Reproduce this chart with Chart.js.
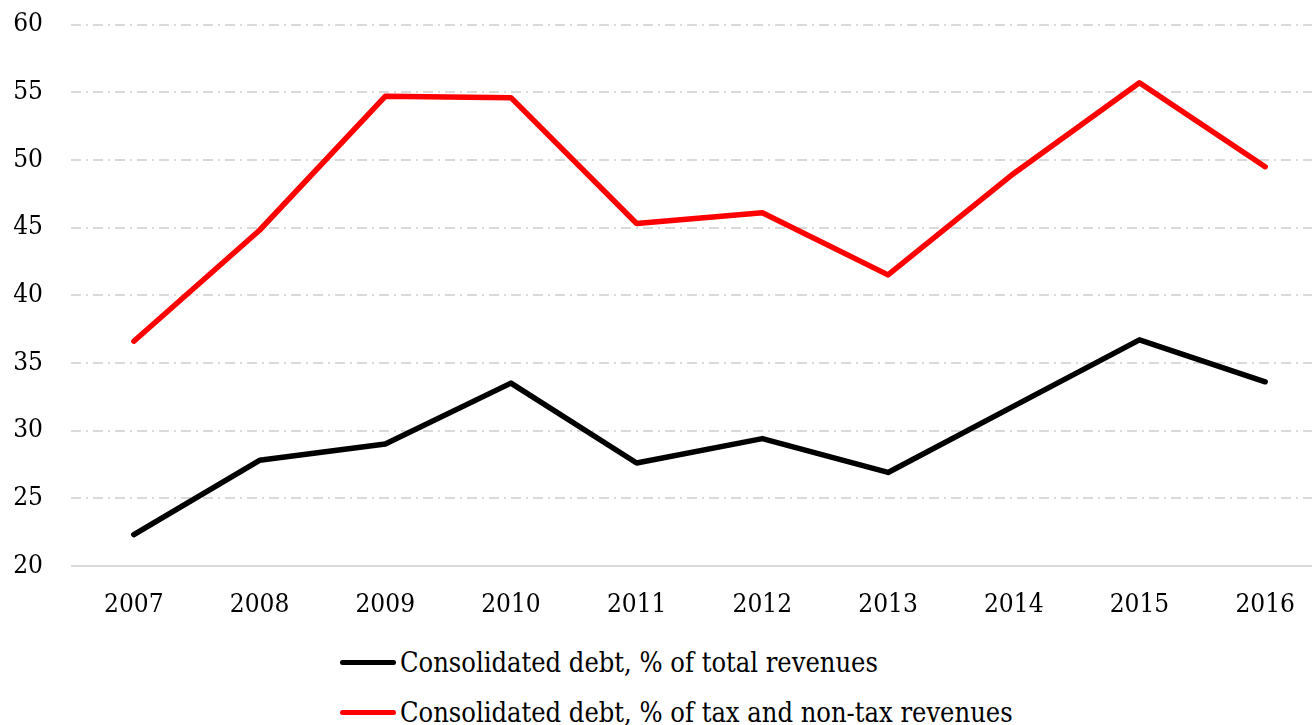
<!DOCTYPE html>
<html>
<head>
<meta charset="utf-8">
<title>Consolidated debt</title>
<script src="https://cdn.jsdelivr.net/npm/chart.js@4"></script>
<style>
  html, body { margin: 0; padding: 0; background: #fff; overflow: hidden; }
  #wrap { position: relative; width: 1312px; height: 725px; overflow: hidden; }
  #chart { position: absolute; left: 0; top: -19px; }
  #legend { position: absolute; left: 340px; top: 637px; font-family: "DejaVu Serif Condensed", "DejaVu Serif", serif; font-stretch: condensed; font-size: 27px; color: #000; }
  .item { display: flex; align-items: center; height: 50px; }
  .swatch { width: 56px; height: 5px; border-radius: 3px; margin-right: 4px; }
</style>
</head>
<body>
<div id="wrap">
  <canvas id="chart" width="1328" height="656"></canvas>
  <div id="legend"></div>
</div>
<script>
// years on the x axis
const years = ['2007', '2008', '2009', '2010', '2011', '2012', '2013', '2014', '2015', '2016'];
// debt as % of total revenues
const debtTotal = [22.3, 27.8, 29.0, 33.5, 27.6, 29.4, 26.9, 31.8, 36.7, 33.6];
// debt as % of tax and non-tax revenues
const debtTax = [36.6, 44.8, 54.7, 54.6, 45.3, 46.1, 41.5, 49.0, 55.7, 49.5];
const yTicks = [20, 25, 30, 35, 40, 45, 50, 55, 60];

const tickFont = { family: '"DejaVu Serif Condensed", "DejaVu Serif", serif', size: 26 };

const ctx = document.getElementById('chart').getContext('2d');

const chart = new Chart(ctx, {
    type: 'line',
    data: {
        labels: years,
        datasets: [{
            label: 'Consolidated debt, % of total revenues',
            data: debtTotal,
            borderColor: '#000000',
            backgroundColor: '#000000',
            borderWidth: 5.5,
            pointRadius: 0,
            tension: 0
        }, {
            label: 'Consolidated debt, % of tax and non-tax revenues',
            data: debtTax,
            borderColor: '#ff0000',
            backgroundColor: '#ff0000',
            borderWidth: 5.5,
            pointRadius: 0,
            tension: 0
        }]
    },
    options: {
        responsive: false,
        animation: false,
        borderCapStyle: 'round',
        borderJoinStyle: 'round',
        layout: { padding: { top: 10, bottom: 0, left: 0, right: 0 } },
        plugins: {
            legend: { display: false },
            tooltip: { enabled: false }
        },
        scales: {
            x: {
                offset: true,
                grid: { display: false },
                border: { display: false },
                ticks: {
                    color: '#000',
                    padding: 16,
                    font: tickFont
                }
            },
            y: {
                min: yTicks[0],
                max: yTicks[yTicks.length - 1],
                afterFit: (scale) => { scale.width = 71; },
                afterBuildTicks: (scale) => { scale.ticks = yTicks.map(v => ({ value: v })); },
                grid: {
                    drawTicks: false,
                    color: '#d9d9d9',
                    lineWidth: 2
                },
                border: {
                    display: false,
                    dash: (c) => (c.tick && c.tick.value === 20) ? [] : [10, 5, 2, 5]
                },
                ticks: {
                    color: '#000',
                    padding: 28,
                    font: tickFont
                }
            }
        }
    }
});

// legend under the chart, one row per series
const legend = document.getElementById('legend');
chart.data.datasets.forEach(ds => {
    const row = document.createElement('div');
    row.className = 'item';
    const sw = document.createElement('span');
    sw.className = 'swatch';
    sw.style.background = ds.borderColor;
    const txt = document.createElement('span');
    txt.textContent = ds.label;
    row.appendChild(sw);
    row.appendChild(txt);
    legend.appendChild(row);
});
</script>
</body>
</html>
